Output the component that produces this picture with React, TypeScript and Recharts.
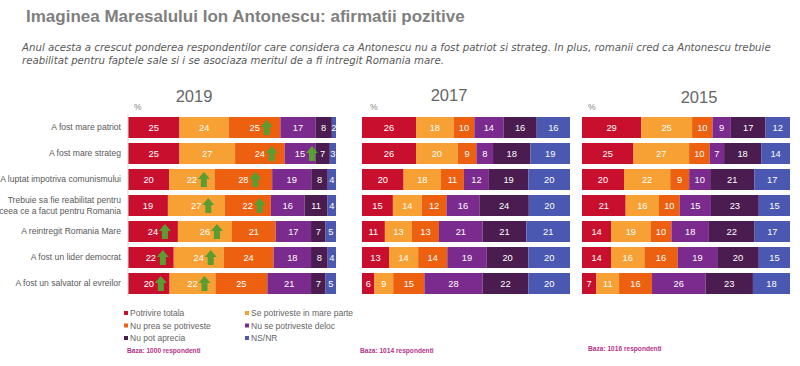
import React from 'react';
import { BarChart, Bar, XAxis, YAxis, LabelList } from 'recharts';

const FONT = '"Liberation Sans", Arial, Helvetica, sans-serif';

const categories = [
  'A fost mare patriot',
  'A fost mare strateg',
  'A luptat impotriva comunismului',
  'Trebuie sa fie reabilitat pentru\nceea ce a facut pentru Romania',
  'A reintregit Romania Mare',
  'A fost un lider democrat',
  'A fost un salvator al evreilor',
];

const seriesNames = [
  'Potrivire totala',
  'Se potriveste in mare parte',
  'Nu prea se potriveste',
  'Nu se potriveste deloc',
  'Nu pot aprecia',
  'NS/NR',
];

const seriesColors = ['#c8102e', '#f7a033', '#ec6010', '#7b2a8e', '#4a1c50', '#4a58b2'];

const values2019 = [
  [25, 24, 25, 17, 8, 2],
  [25, 27, 24, 15, 7, 3],
  [20, 22, 28, 19, 8, 4],
  [19, 27, 22, 16, 11, 4],
  [24, 26, 21, 17, 7, 5],
  [22, 24, 24, 18, 8, 4],
  [20, 22, 25, 21, 7, 5],
];

const values2017 = [
  [26, 18, 10, 14, 16, 16],
  [26, 20, 9, 8, 18, 19],
  [20, 18, 11, 12, 19, 20],
  [15, 14, 12, 16, 24, 20],
  [11, 13, 13, 21, 21, 21],
  [13, 14, 14, 19, 20, 20],
  [6, 9, 15, 28, 22, 20],
];

const values2015 = [
  [29, 25, 10, 9, 17, 12],
  [25, 27, 10, 7, 18, 14],
  [20, 22, 9, 10, 21, 17],
  [21, 16, 10, 15, 23, 15],
  [14, 19, 10, 18, 22, 17],
  [14, 16, 16, 19, 20, 15],
  [7, 11, 16, 26, 23, 18],
];

// segments (series index) marked with a green "increase" arrow in 2019
const up2019 = [[2], [2, 3], [1, 2], [1, 2], [0, 1], [0, 1], [0, 1]];

const yearLabels = ['2019', '2017', '2015'];
const baseLabels = ['Baza: 1000 respondenti', 'Baza: 1014 respondenti', 'Baza: 1016 respondenti'];

const subtitleLines = [
  'Anul acesta a crescut ponderea respondentilor care considera ca Antonescu nu a fost patriot si strateg. In plus, romanii cred ca Antonescu trebuie',
  'reabilitat pentru faptele sale si i se asociaza meritul de a fi intregit Romania mare.',
];

const titleText = 'Imaginea Maresalului Ion Antonescu: afirmatii pozitive';

function buildRows(values: number[][], ups: number[][] | null) {
  return values.map((row, i) => {
    const o: any = { cat: categories[i], up: ups ? ups[i] : [] };
    row.forEach((v, k) => {
      o['s' + k] = v;
    });
    return o;
  });
}

const data2019 = buildRows(values2019, up2019);
const data2017 = buildRows(values2017, null);
const data2015 = buildRows(values2015, null);

const makeLabel = (k: number, rows: any[]) => (props: any) => {
  const vb = props.viewBox || {};
  const x = props.x ?? vb.x;
  const y = props.y ?? vb.y;
  const width = props.width ?? vb.width;
  const height = props.height ?? vb.height;
  const { value, index } = props;
  if (x == null || y == null) return null;
  const cx = x + width / 2;
  const cy = y + height / 2;
  const row = rows[index];
  const hasUp = row && row.up && row.up.indexOf(k) >= 0;
  const ax = cx + 12;
  const top = y + 3;
  const bottom = y + height - 3;
  return (
    <g>
      <text
        x={cx}
        y={cy}
        dy="0.36em"
        textAnchor="middle"
        fill="#ffffff"
        fontSize={9.3}
        fontFamily={FONT}
      >
        {value}
      </text>
      {hasUp ? (
        <path
          d={`M ${ax - 6} ${top + 7} L ${ax} ${top} L ${ax + 6} ${top + 7} L ${ax + 3} ${top + 7} L ${ax + 3} ${bottom} L ${ax - 3} ${bottom} L ${ax - 3} ${top + 7} Z`}
          fill="#5a9e32"
        />
      ) : null}
    </g>
  );
};

const CatTick = (props: any) => {
  const { x, y, payload } = props;
  const lines = String(payload.value).split('\n');
  const lh = 11;
  const start = -((lines.length - 1) * lh) / 2 + 3;
  return (
    <text x={x} y={y} textAnchor="end" fontSize={8.6} fill="#595959" fontFamily={FONT}>
      {lines.map((l, i) => (
        <tspan key={i} x={x} dy={i === 0 ? start : lh}>
          {l}
        </tspan>
      ))}
    </text>
  );
};

function Panel({ data, showAxis }: { data: any[]; showAxis: boolean }) {
  return (
    <BarChart
      width={showAxis ? 336 : 208}
      height={182}
      data={data}
      layout="vertical"
      stackOffset="expand"
      margin={{ top: 0, right: 0, bottom: 0, left: 0 }}
    >
      <XAxis type="number" hide domain={[0, 1]} />
      <YAxis
        type="category"
        dataKey="cat"
        hide={!showAxis}
        width={128}
        interval={0}
        tickLine={false}
        tickMargin={1}
        axisLine={{ stroke: '#d9d9d9' }}
        tick={<CatTick />}
      />
      {seriesNames.map((name, k) => (
        <Bar
          key={name}
          name={name}
          dataKey={'s' + k}
          stackId="a"
          fill={seriesColors[k]}
          barSize={21}
          isAnimationActive={false}
        >
          <LabelList dataKey={'s' + k} content={makeLabel(k, data)} />
        </Bar>
      ))}
    </BarChart>
  );
}

const panelLefts = [0, 362, 582];
const yearCenters = [194, 449, 699];
const yearBaselines = [102, 101, 103];
const pctX = [134, 370, 588];
const baseX = [127, 360, 588];
const baseY = [353, 353, 351];

export default function App() {
  const datasets = [data2019, data2017, data2015];
  return (
    <div
      style={{
        position: 'absolute',
        left: 0,
        top: 0,
        width: 800,
        height: 366,
        background: '#ffffff',
        overflow: 'hidden',
        fontFamily: FONT,
      }}
    >
      <svg width={800} height={366} style={{ position: 'absolute', left: 0, top: 0 }}>
        <text x={26} y={22} fontSize={17} fontWeight="bold" fill="#7f7f7f" fontFamily={FONT}>
          {titleText}
        </text>
        {subtitleLines.map((l, i) => (
          <text
            key={i}
            x={22}
            y={51 + i * 13}
            fontSize={10.2}
            fontStyle="italic"
            fill="#595959"
            fontFamily='"DejaVu Sans", Verdana, sans-serif'
          >
            {l}
          </text>
        ))}
        {yearLabels.map((yl, i) => (
          <text
            key={yl}
            x={yearCenters[i]}
            y={yearBaselines[i]}
            textAnchor="middle"
            fontSize={16.5}
            fill="#666666"
            fontFamily={FONT}
          >
            {yl}
          </text>
        ))}
        {pctX.map((px, i) => (
          <text key={i} x={px} y={110} fontSize={8.5} fill="#7f7f7f" fontFamily={FONT}>
            %
          </text>
        ))}
        {seriesNames.map((n, i) => {
          const col = i % 2;
          const row = Math.floor(i / 2);
          const sx = col === 0 ? 124 : 245;
          const cy = 313 + row * 12.5;
          return (
            <g key={n}>
              <rect x={sx} y={cy - 2} width={4} height={4} fill={seriesColors[i]} />
              <text x={sx + 6} y={cy + 3} fontSize={8.5} fill="#666666" fontFamily={FONT}>
                {n}
              </text>
            </g>
          );
        })}
        {baseLabels.map((b, i) => (
          <text
            key={b}
            x={baseX[i]}
            y={baseY[i]}
            fontSize={6.6}
            fontWeight="bold"
            fill="#b5338a"
            fontFamily={FONT}
          >
            {b}
          </text>
        ))}
      </svg>
      {datasets.map((d, i) => (
        <div key={i} style={{ position: 'absolute', left: panelLefts[i], top: 113.5 }}>
          <Panel data={d} showAxis={i === 0} />
        </div>
      ))}
    </div>
  );
}
